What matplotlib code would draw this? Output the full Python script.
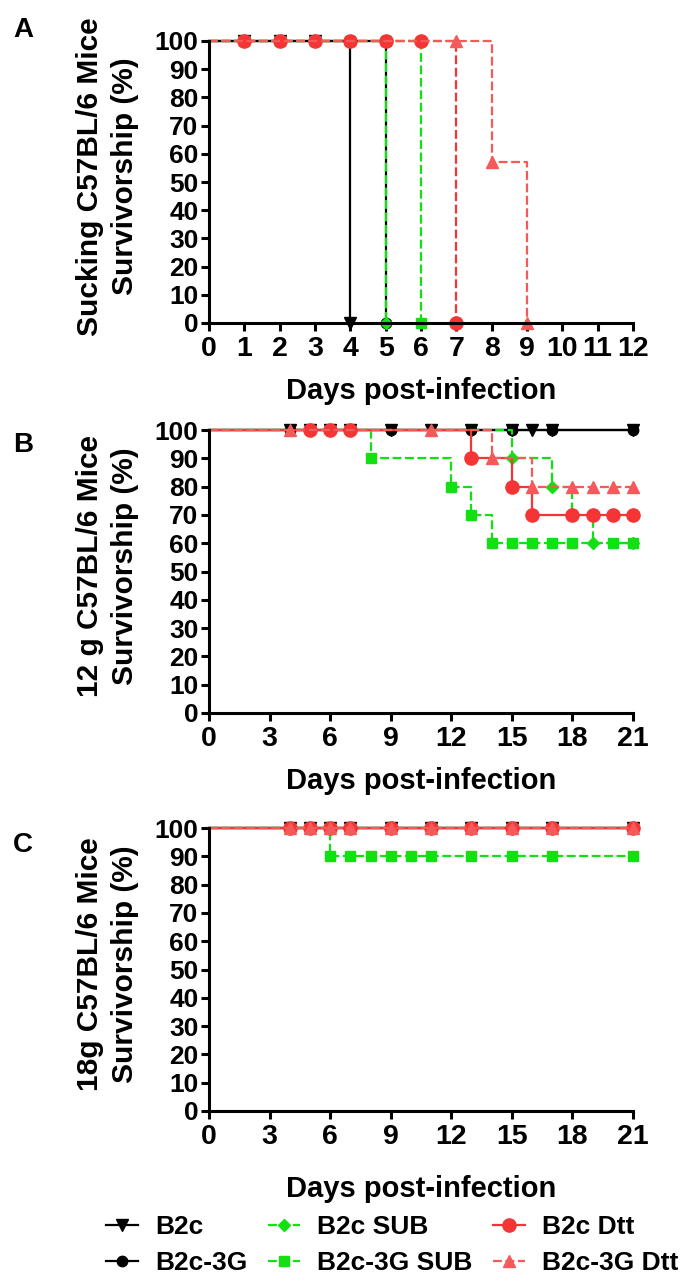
import numpy as np
import matplotlib.pyplot as plt
from matplotlib.lines import Line2D

plt.rcParams['font.family'] = ['Liberation Sans', 'DejaVu Sans']
plt.rcParams['font.weight'] = 'bold'

names = ['B2c', 'B2c-3G', 'B2c SUB', 'B2c-3G SUB', 'B2c Dtt', 'B2c-3G Dtt']

# A) sucking mice -- days and survival (%) per group
a_b2c_d = [0, 1, 2, 3, 4]
a_b2c_s = [100, 100, 100, 100, 0]
a_b2c3g_d = [0, 1, 2, 3, 4, 5]
a_b2c3g_s = [100, 100, 100, 100, 100, 0]
a_sub_d = [0, 1, 2, 3, 4, 5]
a_sub_s = [100, 100, 100, 100, 100, 0]
a_3gsub_d = [0, 1, 2, 3, 4, 5, 6]
a_3gsub_s = [100, 100, 100, 100, 100, 100, 0]
a_dtt_d = [0, 1, 2, 3, 4, 5, 6, 7]
a_dtt_s = [100, 100, 100, 100, 100, 100, 100, 0]
a_3gdtt_d = [0, 7, 8, 9]
a_3gdtt_s = [100, 100, 57, 0]

# B) 12 g mice
b_b2c_d = [0, 4, 5, 6, 7, 9, 11, 13, 15, 16, 17, 21]
b_b2c_s = [100] * 12
b_b2c3g_d = [0, 4, 9, 13, 15, 17, 21]
b_b2c3g_s = [100] * 7
b_sub_d = [0, 5, 6, 7, 15, 17, 18, 19, 21]
b_sub_s = [100, 100, 100, 100, 90, 80, 70, 60, 60]
b_3gsub_d = [0, 8, 12, 13, 14, 15, 16, 17, 18, 20, 21]
b_3gsub_s = [100, 90, 80, 70, 60, 60, 60, 60, 60, 60, 60]
b_dtt_d = [0, 5, 6, 7, 13, 15, 16, 18, 19, 20, 21]
b_dtt_s = [100, 100, 100, 100, 90, 80, 70, 70, 70, 70, 70]
b_3gdtt_d = [0, 4, 11, 14, 16, 18, 19, 20, 21]
b_3gdtt_s = [100, 100, 100, 90, 80, 80, 80, 80, 80]

# C) 18 g mice
c_days = [0, 4, 5, 6, 7, 9, 11, 13, 15, 17, 21]
c_all_s = [100] * 11
c_3gsub_d = [0, 6, 7, 8, 9, 10, 11, 13, 15, 17, 21]
c_3gsub_s = [100, 90, 90, 90, 90, 90, 90, 90, 90, 90, 90]

green = '#12e012'
styles = {
    'B2c':        dict(color='black', ls='-', marker='v', ms=8),
    'B2c-3G':     dict(color='black', ls='-', marker='o', ms=7.5),
    'B2c SUB':    dict(color=green, ls=(0, (4, 1.6)), marker='D', ms=6.5),
    'B2c-3G SUB': dict(color=green, ls=(0, (4, 1.6)), marker='s', ms=7.5),
    'B2c Dtt':    dict(color='#f53535', ls='-', marker='o', ms=9.5),
    'B2c-3G Dtt': dict(color='#f55a5a', ls=(0, (4, 1.6)), marker='^', ms=8),
}


def km(ax, d, s, name, ls=None):
    st = dict(styles[name])
    if ls is not None:
        st['ls'] = ls
    ax.plot(d, s, drawstyle='steps-post', lw=1.6, markevery=list(range(1, len(d))),
            clip_on=False, label=name, **st)


def style_axes(ax, xmax, xstep, ylab):
    ax.set_xlim(0, xmax)
    ax.set_ylim(0, 100)
    ax.set_xticks(np.arange(0, xmax + 1, xstep))
    ax.set_yticks(np.arange(0, 101, 10))
    for s in ['top', 'right']:
        ax.spines[s].set_visible(False)
    for s in ['left', 'bottom']:
        ax.spines[s].set_linewidth(2.2)
    ax.tick_params(direction='out', length=6, width=2.2)
    ax.tick_params(axis='y', labelsize=19, pad=1.5)
    ax.tick_params(axis='x', labelsize=20.5, pad=3)
    ax.set_ylabel(ylab, fontsize=21.5, fontweight='bold', linespacing=1.3)
    ax.yaxis.set_label_coords(-0.165, 0.52)
    ax.set_xlabel('Days post-infection', fontsize=21, fontweight='bold')


fig = plt.figure(figsize=(7, 12.82), dpi=100)
W, H = 700, 1282
def pos(top, bottom):
    return [209 / W, 1 - bottom / H, 424 / W, (bottom - top) / H]

axA = fig.add_axes(pos(41, 323))
km(axA, a_b2c_d, a_b2c_s, 'B2c')
km(axA, a_b2c3g_d, a_b2c3g_s, 'B2c-3G')
km(axA, a_sub_d, a_sub_s, 'B2c SUB')
km(axA, a_3gsub_d, a_3gsub_s, 'B2c-3G SUB')
km(axA, a_dtt_d, a_dtt_s, 'B2c Dtt', ls=(0, (4, 1.6)))
km(axA, a_3gdtt_d, a_3gdtt_s, 'B2c-3G Dtt')
style_axes(axA, 12, 1, 'Sucking C57BL/6 Mice\nSurvivorship (%)')
axA.xaxis.set_label_coords(0.5, -0.19)

axB = fig.add_axes(pos(430, 713))
km(axB, b_b2c_d, b_b2c_s, 'B2c')
km(axB, b_b2c3g_d, b_b2c3g_s, 'B2c-3G')
km(axB, b_sub_d, b_sub_s, 'B2c SUB')
km(axB, b_3gsub_d, b_3gsub_s, 'B2c-3G SUB')
km(axB, b_dtt_d, b_dtt_s, 'B2c Dtt')
km(axB, b_3gdtt_d, b_3gdtt_s, 'B2c-3G Dtt')
style_axes(axB, 21, 3, '12 g C57BL/6 Mice\nSurvivorship (%)')
axB.xaxis.set_label_coords(0.5, -0.19)

axC = fig.add_axes(pos(828, 1111))
km(axC, c_days, c_all_s, 'B2c')
km(axC, c_days, c_all_s, 'B2c-3G')
km(axC, c_days, c_all_s, 'B2c SUB')
km(axC, c_3gsub_d, c_3gsub_s, 'B2c-3G SUB')
km(axC, c_days, c_all_s, 'B2c Dtt')
km(axC, c_days, c_all_s, 'B2c-3G Dtt')
style_axes(axC, 21, 3, '18g C57BL/6 Mice\nSurvivorship (%)')
axC.xaxis.set_label_coords(0.5, -0.225)

for lab, y in [('A', 30), ('B', 445), ('C', 845)]:
    fig.text(23 / W, 1 - y / H, lab, fontsize=20, fontweight='bold', ha='center', va='center')

handles = [Line2D([], [], lw=1.6, **styles[n]) for n in names]
fig.legend(handles, names, loc='upper left', bbox_to_anchor=(106 / W, 1 - 1215 / H),
           ncol=3, frameon=False, handlelength=1.2, handletextpad=0.65,
           columnspacing=0.8, labelspacing=0.45, borderpad=0, borderaxespad=0,
           numpoints=1, prop=dict(weight='bold', size=19))

fig.savefig('out.png', dpi=100)
